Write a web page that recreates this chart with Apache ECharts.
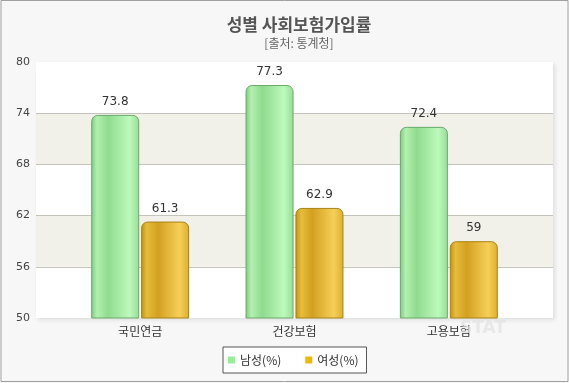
<!DOCTYPE html>
<html>
<head>
<meta charset="utf-8">
<script src="https://cdn.jsdelivr.net/npm/echarts@6/dist/echarts.min.js"></script>
<style>
html,body{margin:0;padding:0;background:#f7f7f7;}
#c{width:569px;height:383px;}
</style>
</head>
<body>
<div id="c"></div>
<script>
var categories = ['국민연금', '건강보험', '고용보험'];
var maleValues = [73.8, 77.3, 72.4];
var femaleValues = [61.3, 62.9, 59];
var seriesNames = ['남성(%)', '여성(%)'];
var yMin = 50, yMax = 80, yStep = 6;

var kr = "'Noto Sans CJK KR', sans-serif";
var num = "'DejaVu Sans', sans-serif";

function grad(stops) {
  return new echarts.graphic.LinearGradient(0, 0, 1, 0, stops.map(function (s) { return { offset: s[0], color: s[1] }; }));
}
var greenFill = grad([[0, '#7cc97c'], [0.12, '#b4f0b0'], [0.35, '#8fdb8f'], [0.8, '#bdf9bb'], [1, '#95dd95']]);
var goldFill = grad([[0, '#c48e0c'], [0.12, '#e6bd3c'], [0.35, '#d3a020'], [0.8, '#f6cf58'], [1, '#dcae2c']]);

var chart = echarts.init(document.getElementById('c'), null, { renderer: 'canvas' });
chart.setOption({
  backgroundColor: '#f7f7f7',
  animation: false,
  title: {
    text: '성별 사회보험가입률',
    subtext: '[출처: 통계청]',
    left: 294,
    textAlign: 'center',
    top: 11,
    itemGap: 4,
    textStyle: { fontFamily: kr, fontSize: 17, fontWeight: 'bold', color: '#555' },
    subtextStyle: { fontFamily: kr, fontSize: 12, color: '#666' }
  },
  legend: {
    data: [
      { name: seriesNames[0], itemStyle: { color: '#95ef95', borderWidth: 0 } },
      { name: seriesNames[1], itemStyle: { color: '#efb800', borderWidth: 0 } }
    ],
    left: 223,
    top: 347,
    orient: 'horizontal',
    backgroundColor: '#fff',
    borderColor: '#555',
    borderWidth: 1,
    borderRadius: 0,
    padding: [7, 8, 7, 5],
    itemWidth: 7,
    itemHeight: 7,
    itemGap: 24,
    icon: 'rect',
    textStyle: { fontFamily: kr, fontSize: 12, color: '#333' }
  },
  grid: [
    { left: 36, right: 16, top: 62, bottom: 65, show: true, backgroundColor: '#fff', borderWidth: 0,
      shadowColor: 'rgba(0,0,0,0.10)', shadowBlur: 4, shadowOffsetX: 2, shadowOffsetY: 2 },
    { left: 63, right: 43, top: 62, bottom: 65 }
  ],
  xAxis: [
    { type: 'value', gridIndex: 0, show: false, min: 0, max: 1 },
    { type: 'category', gridIndex: 1, data: categories,
      axisLine: { show: false }, axisTick: { show: false },
      axisLabel: { fontFamily: kr, fontSize: 12, color: '#333', margin: 7 } }
  ],
  yAxis: [
    { type: 'value', gridIndex: 0, min: yMin, max: yMax, interval: yStep,
      axisLine: { show: false }, axisTick: { show: false },
      axisLabel: { fontFamily: num, fontSize: 11, color: '#444', margin: 6 },
      splitLine: { show: true, lineStyle: { color: ['rgba(0,0,0,0)', '#c4c4bc', '#c4c4bc', '#c4c4bc', '#c4c4bc', 'rgba(0,0,0,0)'], width: 1 } },
      splitArea: { show: true, areaStyle: { color: ['#ffffff', '#f1f1ea'] } } },
    { type: 'value', gridIndex: 1, min: yMin, max: yMax, interval: yStep, show: false,
      splitLine: { show: false } }
  ],
  series: [
    { name: seriesNames[0], type: 'bar', xAxisIndex: 1, yAxisIndex: 1, data: maleValues,
      barWidth: 48, barGap: '4%',
      itemStyle: { color: greenFill, borderColor: '#6aa96a', borderWidth: 1, borderRadius: [6, 6, 0, 0] },
      label: { show: true, position: 'top', distance: 7, fontFamily: num, fontSize: 12, color: '#333' } },
    { name: seriesNames[1], type: 'bar', xAxisIndex: 1, yAxisIndex: 1, data: femaleValues,
      barWidth: 48, barGap: '4%',
      itemStyle: { color: goldFill, borderColor: '#a88212', borderWidth: 1, borderRadius: [6, 6, 0, 0] },
      label: { show: true, position: 'top', distance: 7, fontFamily: num, fontSize: 12, color: '#333' } }
  ],
  graphic: [
    { type: 'rect', shape: { x: 1, y: 0.5, width: 567, height: 381 }, style: { fill: null, stroke: '#a0a0a0', lineWidth: 1 }, silent: true, z: 100 },
    { type: 'text', left: 460, top: 320, style: { text: 'STAT', fontFamily: num, fontSize: 17, fontWeight: 'bold', fill: 'rgba(225,225,225,0.7)' }, silent: true, z: 100 }
  ]
});
</script>
</body>
</html>
